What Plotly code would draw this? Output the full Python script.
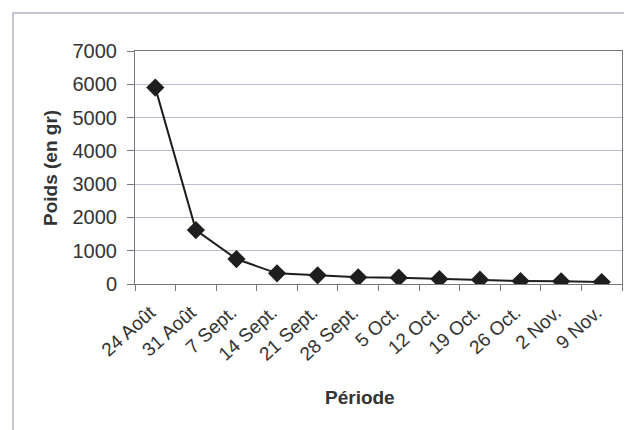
import plotly.graph_objects as go

periodes = ["24 Août", "31 Août", "7 Sept.", "14 Sept.", "21 Sept.", "28 Sept.",
            "5 Oct.", "12 Oct.", "19 Oct.", "26 Oct.", "2 Nov.", "9 Nov."]
poids = [5900, 1620, 750, 320, 260, 200, 190, 150, 130, 90, 80, 60]
y_ticks = [0, 1000, 2000, 3000, 4000, 5000, 6000, 7000]

W, H = 632, 430
OFF = 8  # page offset of the figure in the browser
# target plot box in window pixels: left 135, right 622, top 51, bottom 284
L, T = 135 - OFF, 51 - OFF
R = W + OFF - 622
B = H + OFF - 284
pw, ph = W - L - R, H - T - B


def px(xw):
    return (xw - OFF - L) / pw


def py(yw):
    return (H - B - (yw - OFF)) / ph


fig = go.Figure()
fig.add_trace(go.Scatter(
    x=periodes, y=poids, mode="lines+markers",
    line=dict(color="#1e1e1e", width=2),
    marker=dict(symbol="diamond", size=14, color="#1e1e1e"),
    showlegend=False,
))

font = "Liberation Sans, Arial, sans-serif"
fig.update_layout(
    width=W, height=H,
    margin=dict(l=L, r=R, t=T, b=B, autoexpand=False),
    paper_bgcolor="white", plot_bgcolor="white",
    font=dict(family=font, color="#333333"),
    xaxis=dict(
        type="category", range=[-0.5, len(periodes) - 0.5],
        tickangle=-42, tickson="boundaries",
        ticks="outside", ticklen=6, tickcolor="#777777",
        showgrid=False, showline=True, linecolor="#777777", linewidth=1,
        mirror=True, tickfont=dict(size=19, color="#333333"),
        ticklabelstandoff=9, ticklabelshift=-5, automargin=False,
    ),
    yaxis=dict(
        range=[0, 7000], tickvals=y_ticks, ticks="outside", ticklen=7,
        tickcolor="#777777", showgrid=True, gridcolor="#b8bccb", gridwidth=1,
        showline=True, linecolor="#777777", linewidth=1, mirror=True,
        tickfont=dict(size=20, color="#333333"), zeroline=False,
        ticklabelstandoff=6, automargin=False,
    ),
    annotations=[
        dict(text="<b>Poids (en gr)</b>", xref="paper", yref="paper",
             x=px(50), y=py(168), textangle=-90,
             showarrow=False, font=dict(size=19, color="#333333"),
             xanchor="center", yanchor="middle"),
        dict(text="<b>Période</b>", xref="paper", yref="paper",
             x=px(360), y=py(397),
             showarrow=False, font=dict(size=19, color="#333333"),
             xanchor="center", yanchor="middle"),
    ],
    shapes=[
        dict(type="rect", xref="paper", yref="paper",
             x0=px(13), x1=1.2, y0=-1.0, y1=py(13),
             line=dict(color="#b0b4c4", width=1.5), layer="below"),
    ],
)

fig.write_html("out.html")
